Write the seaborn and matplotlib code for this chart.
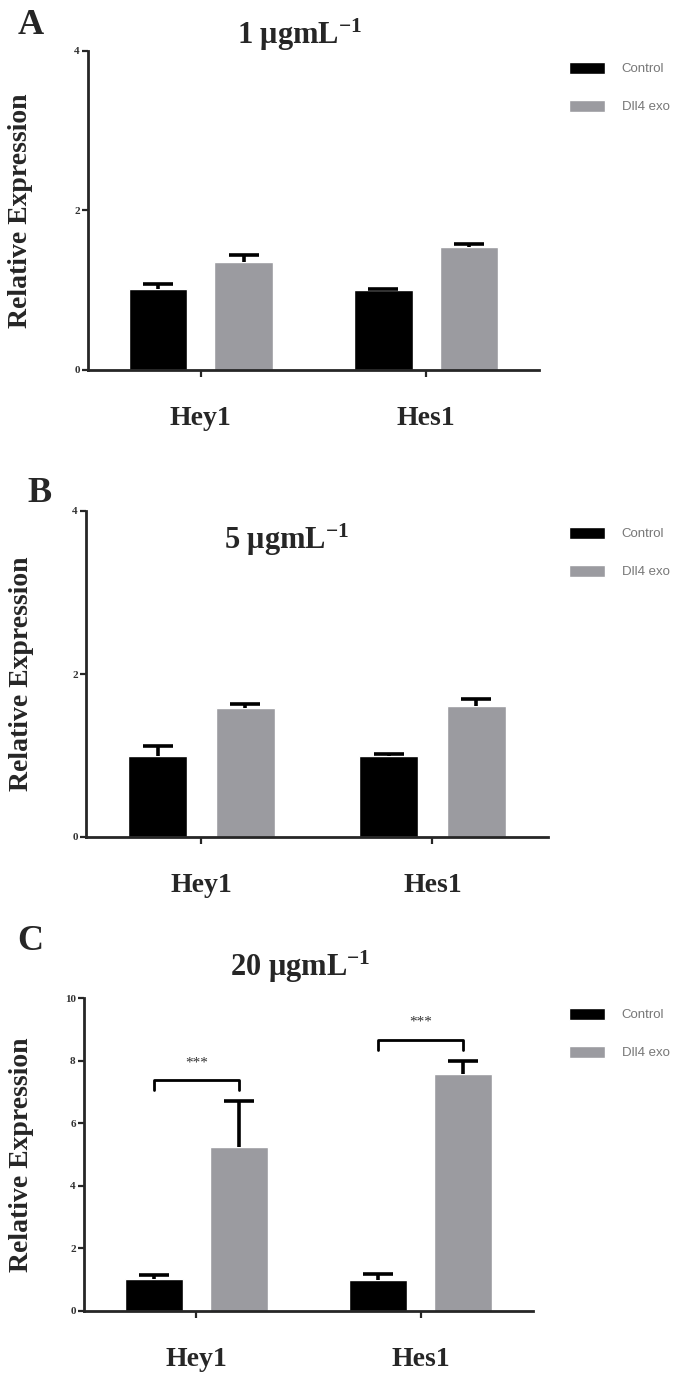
import matplotlib
matplotlib.use("Agg")
import matplotlib.pyplot as plt
import numpy as np
import pandas as pd
import seaborn as sns

# ── Data ───────────────────────────────────────────────────────────────────
genes = ["Hey1", "Hes1"]
treatments = ["Control", "Dll4 exo"]

a_control = [1.01, 1.00]
a_control_sem = [0.07, 0.01]
a_dll4 = [1.36, 1.54]
a_dll4_sem = [0.08, 0.035]

b_control = [1.00, 1.00]
b_control_sem = [0.12, 0.02]
b_dll4 = [1.58, 1.61]
b_dll4_sem = [0.05, 0.08]

c_control = [1.02, 1.00]
c_control_sem = [0.13, 0.18]
c_dll4 = [5.24, 7.57]
c_dll4_sem = [1.47, 0.42]

c_bracket_y = [7.38, 8.66]

# ── Style ──────────────────────────────────────────────────────────────────
sns.set_style("ticks")
plt.rcParams["font.family"] = ["Liberation Serif", "DejaVu Serif"]
plt.rcParams["mathtext.fontset"] = "custom"
plt.rcParams["mathtext.rm"] = "Liberation Serif:bold"
plt.rcParams["mathtext.default"] = "rm"

PALETTE = {"Control": "#000000", "Dll4 exo": "#9b9ba0"}
W, H = 683, 1374

fig = plt.figure(figsize=(W / 100, H / 100), dpi=100)


def px_axes(left, right, top, bottom):
    return fig.add_axes([left / W, 1 - bottom / H, (right - left) / W, (bottom - top) / H])


def draw_panel(ax, control, control_sem, dll4, dll4_sem, ymax, yticks, legend_xy):
    df = pd.DataFrame({
        "gene": genes * 2,
        "group": [treatments[0]] * 2 + [treatments[1]] * 2,
        "value": list(control) + list(dll4),
    })
    sns.barplot(data=df, x="gene", y="value", hue="group", order=genes,
                hue_order=treatments, palette=PALETTE, errorbar=None,
                width=0.76, gap=0.32, saturation=1, ax=ax)

    sems = [control_sem, dll4_sem]
    centers = []
    for cont, sem in zip(ax.containers, sems):
        xs = [b.get_x() + b.get_width() / 2 for b in cont]
        ys = [b.get_height() for b in cont]
        centers.append((xs, ys))
        # upper-only error bars (SEM), GraphPad style
        _, caps, _ = ax.errorbar(xs, ys, yerr=[np.zeros(len(sem)), sem], fmt="none",
                                 ecolor="black", elinewidth=2.6, capsize=10.5,
                                 capthick=2.6, zorder=3)
        caps[0].set_visible(False)

    ax.set_xlim(-0.5, 1.5)
    ax.set_ylim(0, ymax)
    ax.set_yticks(yticks)
    ax.set_yticklabels([str(t) for t in yticks], fontsize=8, fontweight="bold",
                       color="#333333")
    ax.tick_params(axis="y", length=4, width=1.6, pad=2)
    ax.tick_params(axis="x", length=5, width=1.6, pad=21)
    for lab in ax.get_xticklabels():
        lab.set_fontsize(20)
        lab.set_fontweight("bold")
    ax.set_xlabel("")
    ax.set_ylabel("Relative Expression", fontsize=20, fontweight="bold",
                  va="center")
    sns.despine(ax=ax)
    for side in ("left", "bottom"):
        ax.spines[side].set_linewidth(2.0)

    sns.move_legend(ax, loc="upper left",
                    bbox_to_anchor=(legend_xy[0] / W, 1 - legend_xy[1] / H),
                    bbox_transform=fig.transFigure, title=None, frameon=False,
                    fontsize=9.5, handlelength=2.7, handleheight=1.0,
                    handletextpad=1.3, labelspacing=1.85, borderpad=0,
                    borderaxespad=0)
    for t in ax.get_legend().get_texts():
        t.set_color("#777777")
        t.set_family(["Liberation Sans", "DejaVu Sans"])
    return centers


# Panel A
ax_a = px_axes(88, 539, 51, 370)
draw_panel(ax_a, a_control, a_control_sem, a_dll4, a_dll4_sem, 4, [0, 2, 4], (569, 62))
ax_a.yaxis.set_label_coords(-0.15, 0.5)

# Panel B
ax_b = px_axes(86, 548, 511, 837)
draw_panel(ax_b, b_control, b_control_sem, b_dll4, b_dll4_sem, 4, [0, 2, 4], (569, 527))
ax_b.yaxis.set_label_coords(-0.14, 0.5)

# Panel C
ax_c = px_axes(84, 533, 998, 1311)
centers = draw_panel(ax_c, c_control, c_control_sem, c_dll4, c_dll4_sem, 10,
                     [0, 2, 4, 6, 8, 10], (569, 1008))
ax_c.yaxis.set_label_coords(-0.14, 0.5)

# significance brackets between Control and Dll4 exo
for i, yb in enumerate(c_bracket_y):
    x0 = centers[0][0][i]
    x1 = centers[1][0][i]
    ax_c.plot([x0, x0, x1, x1], [yb - 0.32, yb, yb, yb - 0.32], color="black",
              lw=2.0, solid_joinstyle="round", clip_on=False)
    ax_c.text((x0 + x1) / 2, yb + 0.35, "***", ha="center", va="bottom",
              fontsize=11, color="#333333")

# Titles and panel letters
titles = ["1 μgmL$^{-1}$", "5 μgmL$^{-1}$", "20 μgmL$^{-1}$"]
title_pos = [(300, 35), (287, 540), (300, 967)]
for txt, (x, y) in zip(titles, title_pos):
    fig.text(x / W, 1 - y / H, txt, ha="center", va="center", fontsize=22,
             fontweight="bold")

letters = ["A", "B", "C"]
letter_pos = [(31, 25), (40, 493), (30, 942)]
for txt, (x, y) in zip(letters, letter_pos):
    fig.text(x / W, 1 - y / H, txt, ha="center", va="center", fontsize=26,
             fontweight="bold")

fig.savefig("out.png", dpi=100)
